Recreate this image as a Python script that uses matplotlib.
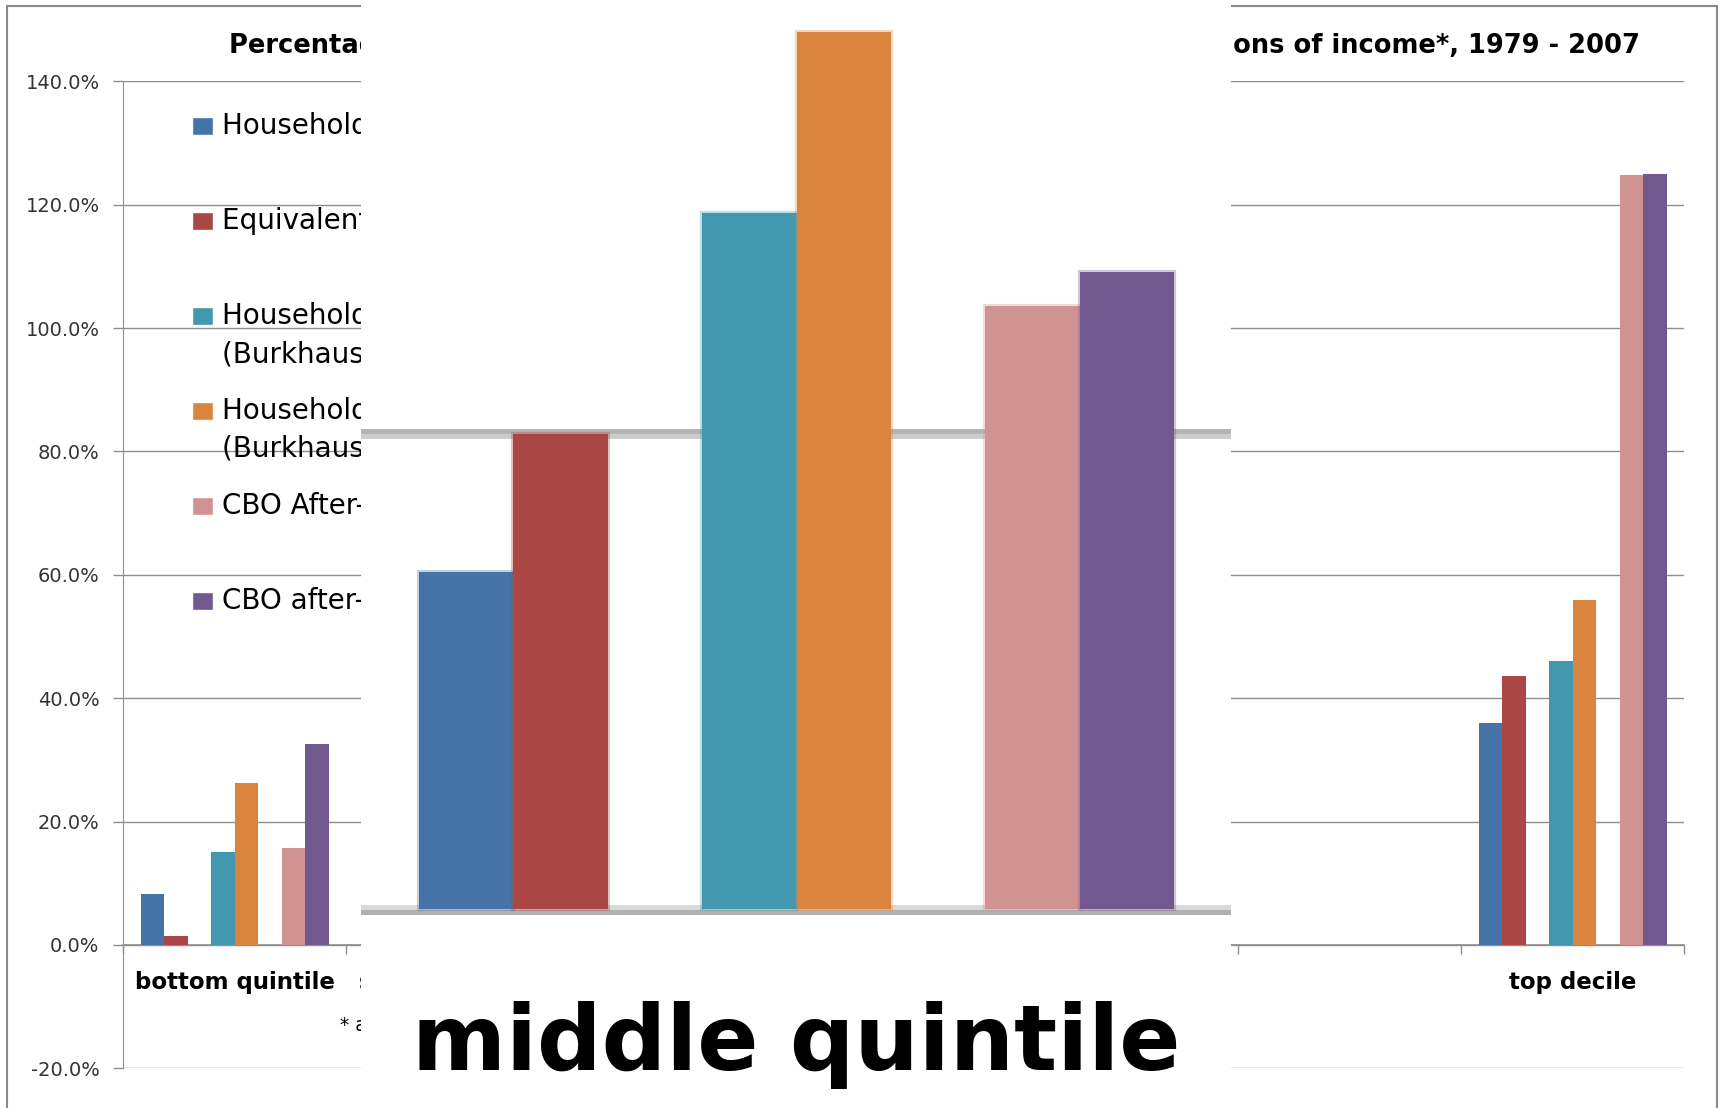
import matplotlib.pyplot as plt
from matplotlib.patches import Rectangle
from matplotlib.ticker import PercentFormatter

plt.rcParams['font.family'] = ['DejaVu Sans']
plt.rcParams['axes.unicode_minus'] = False

# categories along the x axis (6th slot is an empty category in the source chart)
categories = ["bottom quintile", "second quintile", "middle quintile",
              "fourth quintile", "top quintile", "", "top decile"]

series_names = [
    "Household pre-tax, pre-transfer income",
    "Equivalent household income",
    "Household post-tax, post-transfer income\n(Burkhauser et al.)",
    "Household post-tax, post-transfer income + health insurance\n(Burkhauser et al.)",
    "CBO After-tax income",
    "CBO after-tax income, size adjusted",
]
colors = ["#4572A7", "#AA4643", "#4198AF", "#DB843D", "#D19392", "#71588F"]

nan = float("nan")
# percentage growth 1979 - 2007 (%), one value per category
household = [8.2, 11.0, 14.2, 20.0, 27.0, nan, 36.0]
equivalent = [1.5, 12.5, 20.0, 26.0, 35.0, nan, 43.6]
burkhauser = [15.0, 22.0, 29.3, 34.0, 40.0, nan, 46.0]
burkhauser_health = [26.3, 31.0, 36.9, 42.0, 49.0, nan, 55.9]
cbo_after_tax = [15.7, 21.0, 25.4, 32.0, 60.0, nan, 124.8]
cbo_after_tax_adj = [32.5, 27.0, 26.8, 33.0, 63.0, nan, 124.9]

series = [household, equivalent, burkhauser, burkhauser_health,
          cbo_after_tax, cbo_after_tax_adj]
slots = [0, 1, 3, 4, 6, 7]          # pairs of bars with a gap between them

title = ("Percentage growth in real income by quintile, using different "
         "definitions of income*, 1979 - 2007")
footnote = "* all income measures adjusted for inflation"

W, H = 1719, 1108
bar_w = 0.1054
left0 = 0.079
grid_c = "#8e8e8e"


def px_box(x0, y0, x1, y1):
    return [x0 / W, 1 - y1 / H, (x1 - x0) / W, (y1 - y0) / H]


def draw_bars(ax, halo=False):
    for vals, col, slot in zip(series, colors, slots):
        x = [i + left0 + slot * bar_w for i in range(len(categories))]
        if halo:
            ax.bar(x, vals, width=bar_w, align='edge', color=col, zorder=3,
                   edgecolor=col + "55", linewidth=3.0)
        else:
            ax.bar(x, vals, width=bar_w, align='edge', color=col, zorder=3,
                   linewidth=0)


fig = plt.figure(figsize=(W / 100, H / 100), dpi=100)

# ---- main chart
ax = fig.add_axes(px_box(123, 81.2, 1684, 1068.4))
draw_bars(ax)

ax.set_yticks(range(-20, 141, 20))
ax.yaxis.set_major_formatter(PercentFormatter(xmax=100, decimals=1))
ax.yaxis.grid(True, color=grid_c, lw=1.0)
ax.set_axisbelow(True)
ax.tick_params(axis='y', direction='out', length=7.5, width=1, color=grid_c,
               pad=9.4, labelsize=14, labelcolor='#333333')

for s in ['top', 'right']:
    ax.spines[s].set_visible(False)
ax.spines['left'].set_color(grid_c)
ax.spines['bottom'].set_color(grid_c)
ax.spines['bottom'].set_linewidth(1.2)
ax.spines['bottom'].set_position(('data', 0))

ax.set_xticks(range(len(categories) + 1))
ax.set_xticklabels([])
ax.set_xticks([i + 0.5 for i in range(len(categories))], minor=True)
ax.set_xticklabels(categories, minor=True, fontsize=16.5, fontweight='bold')
ax.tick_params(axis='x', which='major', direction='out', length=6.5,
               width=1, color=grid_c)
ax.tick_params(axis='x', which='minor', length=0, pad=18.7)
ax.set_xlim(0, len(categories))
ax.set_ylim(-20, 140)

# legend drawn Excel-style inside the plot area
for i, (name, col) in enumerate(zip(series_names, colors)):
    cy = 126 + i * 95
    fig.add_artist(Rectangle((193 / W, 1 - (cy + 8) / H), 19 / W, 16 / H,
                             transform=fig.transFigure, facecolor=col,
                             edgecolor=col + "99", lw=0.8, zorder=1))
    for j, line in enumerate(name.split("\n")):
        fig.text(222 / W, 1 - (cy + 8 + 38 * j) / H, line, fontsize=20,
                 va='baseline', ha='left', zorder=1)

fig.text(1640 / W, 1 - 53 / H, title, fontsize=18.5, fontweight='bold',
         ha='right', va='baseline', zorder=1)
fig.text(340 / W, 1 - 1031 / H, footnote, fontsize=13.5, va='baseline',
         zorder=1)

fig.add_artist(Rectangle((7 / W, -0.05), (1717 - 7) / W, 1.05 - 6 / H,
                         transform=fig.transFigure, fill=False,
                         edgecolor='#8a8a8a', lw=1.5, zorder=1))

# ---- magnified view of the middle quintile, laid over the chart
ax2 = fig.add_axes(px_box(361, 0, 1231, 1108), zorder=10)
ax2.set_facecolor('white')
draw_bars(ax2, halo=True)

for y0 in [0, 20]:
    upper, lower = ('#b4b4b4', '#cdcdcd') if y0 else ('#d9d9d9', '#b0b0b0')
    ax2.axhline(y0 + 0.105, color=upper, lw=3.6, zorder=1)
    ax2.axhline(y0 - 0.105, color=lower, lw=3.6, zorder=1)

for s in ax2.spines.values():
    s.set_visible(False)
ax2.spines['bottom'].set_position(('data', 0))
ax2.set_yticks([])
ax2.set_xticks([])
ax2.set_xticks([i + 0.5 for i in range(len(categories))], minor=True)
ax2.set_xticklabels(categories, minor=True, fontsize=65, fontweight='bold')
ax2.tick_params(axis='x', which='minor', length=0, pad=66)
ax2.set_xlim(2.0142, 2.9857)
ax2.set_ylim(-8.35, 38.25)

fig.savefig('out.png', dpi=100)
